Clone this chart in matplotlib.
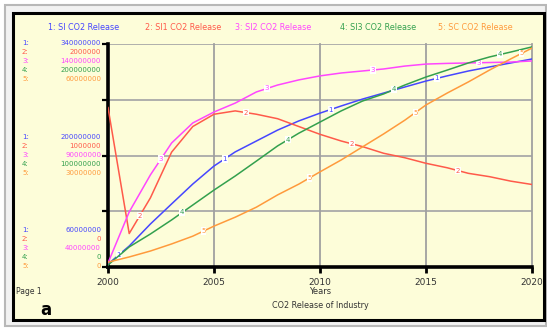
import numpy as np
import matplotlib.pyplot as plt
from matplotlib.patches import Rectangle

years = np.arange(2000, 2021)

# series values
si = [63.6, 86.3, 114.0, 139.2, 164.2, 186.8, 204.5, 218.2, 231.9, 243.4, 253.2,
      262.2, 270.8, 278.4, 286.0, 293.5, 300.0, 306.1, 311.2, 316.2, 321.2]  # x1e6
si1 = [1.43, 0.30, 0.62, 1.03, 1.26, 1.37, 1.40, 1.37, 1.33, 1.26, 1.19,
       1.13, 1.08, 1.02, 0.98, 0.93, 0.89, 0.84, 0.81, 0.77, 0.74]  # x1e6
si2 = [41.8, 64.7, 81.3, 95.6, 104.6, 109.5, 113.5, 118.5, 121.6, 123.9, 125.7,
       127.0, 127.9, 128.8, 130.1, 131.0, 131.3, 131.5, 131.7, 131.9, 132.4]  # x1e6
si3 = [1.8, 18.0, 29.6, 42.2, 55.6, 69.0, 81.6, 95.0, 108.6, 120.0, 130.0,
       140.0, 148.8, 155.2, 163.2, 170.4, 176.6, 183.0, 188.4, 192.8, 197.4]  # x1e6
sc = [1.3, 2.7, 4.3, 6.2, 8.3, 11.0, 13.4, 16.1, 19.4, 22.3, 25.6,
      28.8, 32.3, 35.8, 39.5, 43.6, 46.8, 49.8, 53.0, 56.0, 58.9]  # x1e6

names = ["1: SI CO2 Release", "2: SI1 CO2 Release", "3: SI2 CO2 Release",
         "4: SI3 CO2 Release", "5: SC CO2 Release"]
colors = ["#4646ff", "#ff5a4a", "#ff46ff", "#33a04e", "#ff9a3c"]
lows = [60e6, 0, 40e6, 0, 0]
highs = [340e6, 2e6, 140e6, 200e6, 60e6]
top_labels = ["340000000", "2000000", "140000000", "200000000", "60000000"]
mid_labels = ["200000000", "1000000", "90000000", "100000000", "30000000"]
low_labels = ["60000000", "0", "40000000", "0", "0"]
series = [si, si1, si2, si3, sc]

W, H = 547, 330
fig = plt.figure(figsize=(W / 100, H / 100), dpi=100)
fig.patch.set_facecolor("white")

def px(x, y):
    return x / W, 1 - y / H

# frames
fig.patches.append(Rectangle(px(5, 326), 541 / W, 321 / H, transform=fig.transFigure,
                             facecolor="#f2f2f2", edgecolor="#b8b8b8", lw=1.5, zorder=-10))
fig.patches.append(Rectangle(px(13, 320), 531 / W, 307 / H, transform=fig.transFigure,
                             facecolor="#fdfdd9", edgecolor="black", lw=2.2, zorder=-9))

left, right, top, bottom = 108, 532, 44, 267
rect = [left / W, 1 - bottom / H, (right - left) / W, (bottom - top) / H]
ax = fig.add_axes(rect)
ax.set_facecolor("none")
ax.set_xlim(2000, 2020)
ax.set_ylim(0, 1)
ax.set_xticks([2000, 2005, 2010, 2015, 2020])
ax.set_xticklabels(["2000", "2005", "2010", "2015", "2020"], fontsize=6.5, color="#333333")
ax.set_yticks([0, 0.25, 0.5, 0.75, 1])
ax.set_yticklabels([])
ax.tick_params(axis="y", direction="out", length=4, width=1.6, color="black")
ax.tick_params(axis="x", direction="out", length=4, width=2, color="black", pad=4)
for y in [0.25, 0.5, 0.75, 1.0]:
    ax.axhline(y, color="#a9a9a9", lw=1.3, zorder=0)
for x in [2005, 2010, 2015, 2020]:
    ax.axvline(x, color="#a0a0a0", lw=1.3, zorder=0, clip_on=False)
for s in ["top", "right"]:
    ax.spines[s].set_visible(False)
ax.spines["left"].set_linewidth(2.6)
ax.spines["bottom"].set_linewidth(2.6)
ax.set_xlabel("Years", fontsize=6, color="#333333", labelpad=0)

# each series on its own scale
for k, (vals, c, lo, hi) in enumerate(zip(series, colors, lows, highs)):
    vals = np.array(vals) * 1e6
    a = fig.add_axes(rect, frameon=False)
    a.set_xlim(2000, 2020)
    a.set_ylim(lo, hi)
    a.axis("off")
    a.plot(years, vals, color=c, lw=1.1, zorder=3)
    for xm in np.arange(2000.5 + k, 2020, 5):
        ym = np.interp(xm, years, vals)
        a.text(xm, ym, str(k + 1), color=c, fontsize=5, ha="center", va="center",
               zorder=4, bbox=dict(boxstyle="square,pad=0.1", fc="white", ec="none"))

# legend titles
title_x = [48, 145, 235, 340, 438]
for name, c, x in zip(names, colors, title_x):
    fig.text(x / W, 1 - 27 / H, name, color=c, fontsize=5.8, va="center")

# scale labels on the left
for k in range(5):
    for lbls, y0 in [(top_labels, 43), (mid_labels, 137), (low_labels, 230)]:
        y = y0 + 9 * k
        fig.text(22 / W, 1 - y / H, f"{k + 1}:", color=colors[k], fontsize=5, va="center")
        fig.text(101 / W, 1 - y / H, lbls[k], color=colors[k], fontsize=5,
                 va="center", ha="right")

fig.text(320 / W, 1 - 305 / H, "CO2 Release of Industry", fontsize=5.8,
         color="#333333", ha="center", va="center")
fig.text(16 / W, 1 - 292 / H, "Page 1", fontsize=5.5, color="#333333", va="center")
fig.text(40 / W, 1 - 310 / H, "a", fontsize=12, fontweight="bold", va="center")

fig.savefig("out.png", dpi=100, facecolor=fig.get_facecolor())
